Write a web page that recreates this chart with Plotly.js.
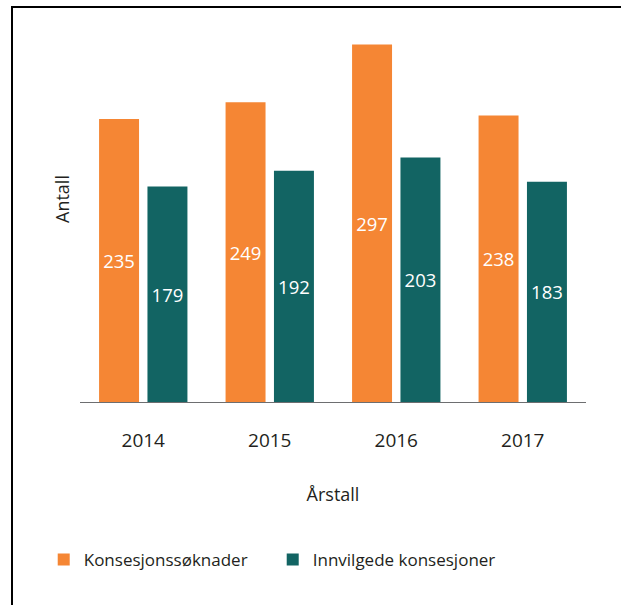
<!DOCTYPE html>
<html>
<head>
<meta charset="utf-8">
<script src="https://cdn.plot.ly/plotly-3.0.1.min.js"></script>
<style>
  html, body { margin: 0; padding: 0; background: #fff; }
  #wrap { position: relative; width: 621px; height: 605px; overflow: hidden; }
  #chart { width: 621px; height: 605px; }
  #frame { position: absolute; left: 11px; top: 6px; width: 700px; height: 700px;
           border-top: 2px solid #000; border-left: 2px solid #000; pointer-events: none; }
</style>
</head>
<body>
<div id="wrap">
  <div id="chart"></div>
  <div id="frame"></div>
</div>
<script>
const years = ['2014', '2015', '2016', '2017'];
const soknader = [235, 249, 297, 238];
const innvilgede = [179, 192, 203, 183];
const seriesNames = ['Konsesjonssøknader', 'Innvilgede konsesjoner'];
const xTitle = 'Årstall';
const yTitle = 'Antall';

const FONT = '"Open Sans", "Noto Sans", sans-serif';
const TXT = '#231f20';

const traces = [
  {
    type: 'bar', name: seriesNames[0], x: years, y: soknader,
    marker: { color: '#f58634' },
    text: soknader.map(String), textposition: 'inside', insidetextanchor: 'middle',
    textfont: { color: '#ffffff', size: 18.5, family: FONT },
    hoverinfo: 'skip'
  },
  {
    type: 'bar', name: seriesNames[1], x: years, y: innvilgede,
    marker: { color: '#126463' },
    text: innvilgede.map(String), textposition: 'inside', insidetextanchor: 'middle',
    textfont: { color: '#ffffff', size: 18.5, family: FONT },
    hoverinfo: 'skip'
  }
];

const layout = {
  width: 621, height: 605,
  margin: { l: 80, r: 35, t: 30, b: 203 },
  paper_bgcolor: '#ffffff', plot_bgcolor: '#ffffff',
  font: { family: FONT, color: TXT, size: 17 },
  barmode: 'group', bargap: 0.235, bargroupgap: 0.174,
  showlegend: true,
  legend: {
    orientation: 'h', xref: 'container', x: 0.0704, xanchor: 'left',
    yref: 'container', y: 0.0744, yanchor: 'middle',
    font: { size: 17, color: TXT, family: FONT },
    entrywidth: 184, entrywidthmode: 'pixels',
    traceorder: 'normal'
  },
  xaxis: {
    type: 'category',
    showline: true, linecolor: '#6d6e70', linewidth: 1.3,
    showgrid: false, zeroline: false,
    ticks: 'outside', ticklen: 21, tickcolor: 'rgba(0,0,0,0)',
    tickfont: { size: 19, color: TXT, family: FONT },
    title: { text: xTitle, standoff: 36, font: { size: 18, color: TXT, family: FONT } },
    fixedrange: true
  },
  yaxis: {
    range: [0, 309],
    showline: false, showgrid: false, zeroline: false,
    showticklabels: false, ticks: '',
    fixedrange: true
  },
  annotations: [
    {
      text: yTitle, xref: 'paper', yref: 'paper',
      x: (61.5 - 80) / 506, y: (402 - 199.5) / 372,
      xanchor: 'center', yanchor: 'middle', textangle: -90, showarrow: false,
      font: { size: 18, color: TXT, family: FONT }
    }
  ]
};

Plotly.newPlot('chart', traces, layout, { displayModeBar: false, staticPlot: true });
</script>
</body>
</html>
